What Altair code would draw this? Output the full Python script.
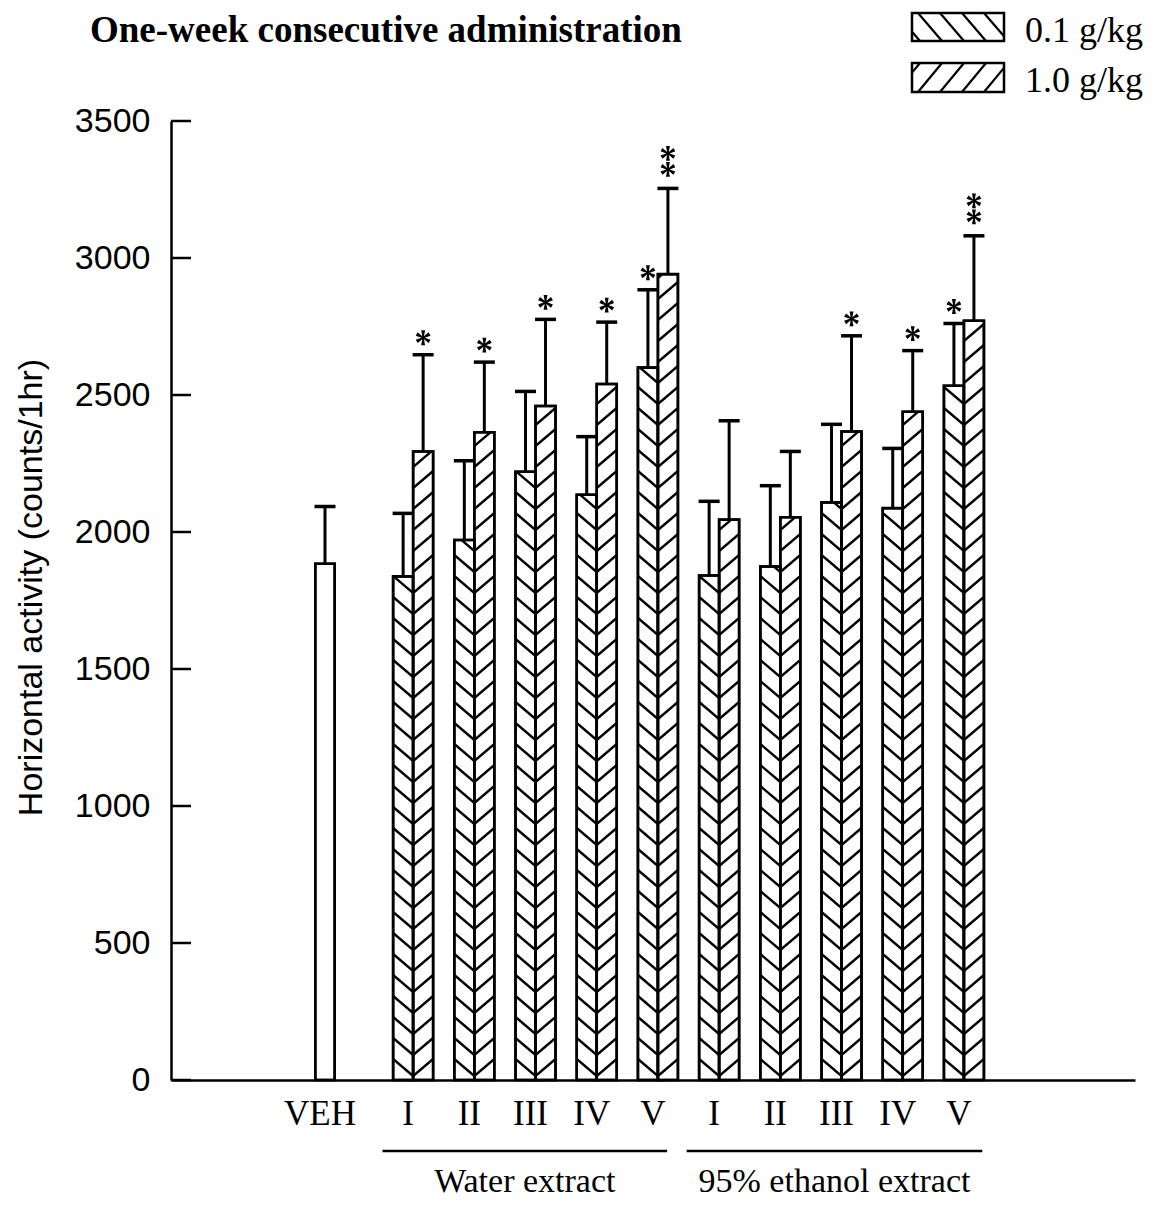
import altair as alt
import math
import pandas as pd

# ---------------- data ----------------
categories = ["VEH", "I", "II", "III", "IV", "V", "I", "II", "III", "IV", "V"]
group_labels = ["Water extract", "95% ethanol extract"]
dose_labels = ["0.1 g/kg", "1.0 g/kg"]
y_ticks = [0, 500, 1000, 1500, 2000, 2500, 3000, 3500]

veh_mean = 1884
veh_sem = 209

water_01_mean = [1838, 1971, 2220, 2136, 2600]
water_01_sem = [230, 289, 293, 212, 284]
water_10_mean = [2294, 2364, 2460, 2540, 2941]
water_10_sem = [353, 256, 316, 226, 313]

eth_01_mean = [1841, 1874, 2108, 2087, 2534]
eth_01_sem = [271, 295, 285, 218, 227]
eth_10_mean = [2045, 2054, 2367, 2439, 2771]
eth_10_sem = [361, 240, 349, 223, 310]

water_01_sig = ["", "", "", "", "*"]
water_10_sig = ["*", "*", "*", "*", "**"]
eth_01_sig = ["", "", "", "", "*"]
eth_10_sig = ["", "", "*", "*", "**"]

# ---------------- layout ----------------
W, H = 964, 959
PAD_L, PAD_T, PAD_R, PAD_B = 163, 113, 13, 120
Y_MAX = 3500
SLOT = 61.2                      # px per category slot
X_DOM = [-154 / SLOT, 810 / SLOT]
FIRST_GAP = 1.44                 # VEH -> first group
BW = 20 / SLOT                   # dose bar width (units)
VEH_HALF = 9.7 / SLOT
CAP_HALF = 10.5 / SLOT
PPY = H / Y_MAX                  # px per y unit
S = 21 / PPY                     # hatch spacing (y units)
D = 17 / PPY                     # hatch drop across bar width (y units)
STAR_GAP0 = 17                   # px above cap for first star
STAR_STEP = 16                   # px between stacked stars

SERIF = "Liberation Serif"
SANS = "Liberation Sans"


def clip(x0, y0, x1, y1, xmin, xmax, ymin, ymax):
    dx, dy = x1 - x0, y1 - y0
    t0, t1 = 0.0, 1.0
    for p, q in ((-dx, x0 - xmin), (dx, xmax - x0), (-dy, y0 - ymin), (dy, ymax - y0)):
        if p == 0:
            if q < 0:
                return None
        else:
            r = q / p
            if p < 0:
                t0 = max(t0, r)
            else:
                t1 = min(t1, r)
    if t1 - t0 < 1e-6:
        return None
    return (x0 + t0 * dx, y0 + t0 * dy, x0 + t1 * dx, y0 + t1 * dy)


# asterisk symbol: three crossing tapered lobes (vertical + two diagonals)
def asterisk_path(tip_w=0.26, mid_w=0.08):
    parts = []
    for ang in (90, 30, -30):
        a = math.radians(ang)
        ux, uy = math.cos(a), -math.sin(a)
        px, py = -uy, ux
        pts = [(ux + px * tip_w, uy + py * tip_w), (px * mid_w, py * mid_w),
               (-ux + px * tip_w, -uy + py * tip_w), (-ux - px * tip_w, -uy - py * tip_w),
               (-px * mid_w, -py * mid_w), (ux - px * tip_w, uy - py * tip_w)]
        parts.append("M" + " L".join(f"{x:.3f},{y:.3f}" for x, y in pts) + " Z")
    return " ".join(parts)


STAR_SHAPE = asterisk_path()

bars, hatch, stars, xlabels = [], [], [], []
bars.append(dict(x0=-VEH_HALF, x1=VEH_HALF, c=0.0, mean=veh_mean, up=veh_mean + veh_sem))
xlabels.append(dict(c=0.0, lab=categories[0]))

series = [
    (water_01_mean, water_01_sem, water_01_sig, water_10_mean, water_10_sem, water_10_sig),
    (eth_01_mean, eth_01_sem, eth_01_sig, eth_10_mean, eth_10_sem, eth_10_sig),
]
underlines = []
for g, (m1, s1, g1, m2, s2, g2) in enumerate(series):
    poss = []
    for i in range(5):
        pos = FIRST_GAP + g * 5 + i
        poss.append(pos)
        xlabels.append(dict(c=pos, lab=categories[1 + g * 5 + i]))
        for (x0, x1, m, s, sig, kind) in ((pos - BW, pos, m1[i], s1[i], g1[i], "back"),
                                           (pos, pos + BW, m2[i], s2[i], g2[i], "fwd")):
            c = (x0 + x1) / 2
            bars.append(dict(x0=x0, x1=x1, c=c, mean=m, up=m + s))
            b = -D
            while b < m + D:
                if kind == "back":
                    seg = clip(x0, b + D, x1, b, x0, x1, 0, m)
                else:
                    seg = clip(x0, b, x1, b + D, x0, x1, 0, m)
                if seg:
                    hatch.append(dict(hx=seg[0], hy=seg[1], hx2=seg[2], hy2=seg[3]))
                b += S
            n = len(sig)
            for k in range(n):
                gap = (STAR_GAP0 if n == 1 else STAR_GAP0 + 2) + k * STAR_STEP
                stars.append(dict(c=c, up=m + s, sy=m + s + gap / PPY))
    if g == 0:
        underlines.append(dict(u0=poss[0] - 0.5, u1=poss[-1] + 0.15, lab=group_labels[g]))
    else:
        underlines.append(dict(u0=poss[0] - 0.53, u1=poss[-1] + 0.3, lab=group_labels[g]))

bars_df = pd.DataFrame(bars)
hatch_df = pd.DataFrame(hatch)
stars_df = pd.DataFrame(stars)
xl_df = pd.DataFrame(xlabels)
ul_df = pd.DataFrame(underlines)
ul_df["mid"] = (ul_df["u0"] + ul_df["u1"]) / 2
ticks_df = pd.DataFrame({"t": y_ticks})

xs = alt.Scale(domain=X_DOM, nice=False, zero=False)
ys = alt.Scale(domain=[0, Y_MAX], nice=False)

base_bars = alt.Chart(bars_df)

fill_rect = base_bars.mark_rect(fill="white", stroke="black", strokeWidth=2.5).encode(
    x=alt.X("x0:Q", scale=xs, axis=alt.Axis(labels=False, ticks=False, grid=False, title=None,
                                           domainColor="black", domainWidth=2.5)),
    x2="x1:Q",
    y=alt.Y("mean:Q", scale=ys, axis=alt.Axis(
        values=y_ticks, format="d", grid=False, ticks=False, tickSize=0, labelPadding=21,
        labelFont=SANS, labelFontSize=34, labelColor="black",
        domainColor="black", domainWidth=2.5,
        title="Horizontal activity (counts/1hr)", titleFont=SANS, titleFontSize=34,
        titleFontWeight="normal", titleColor="black", titleX=-140, titleY=466,
        titleAngle=-90, titleAlign="center", titleBaseline="middle")),
    y2=alt.datum(0),
)

hatch_layer = alt.Chart(hatch_df).mark_rule(color="black", strokeWidth=2.3).encode(
    x=alt.X("hx:Q", scale=xs), x2="hx2:Q",
    y=alt.Y("hy:Q", scale=ys), y2="hy2:Q",
)

outline = base_bars.mark_rect(fillOpacity=0, stroke="black", strokeWidth=2.6).encode(
    x=alt.X("x0:Q", scale=xs), x2="x1:Q",
    y=alt.Y("mean:Q", scale=ys), y2=alt.datum(0),
)

err = base_bars.mark_rule(color="black", strokeWidth=3).encode(
    x=alt.X("c:Q", scale=xs),
    y=alt.Y("mean:Q", scale=ys), y2="up:Q",
)

caps = base_bars.transform_calculate(
    cl=f"datum.c - {CAP_HALF}", cr=f"datum.c + {CAP_HALF}"
).mark_rule(color="black", strokeWidth=3.5).encode(
    x=alt.X("cl:Q", scale=xs), x2="cr:Q",
    y=alt.Y("up:Q", scale=ys),
)

star_marks = alt.Chart(stars_df).mark_point(
    shape=STAR_SHAPE, filled=True, fill="black", strokeWidth=0,
    size=220, opacity=1,
).encode(x=alt.X("c:Q", scale=xs), y=alt.Y("sy:Q", scale=ys))

inner_ticks = alt.Chart(ticks_df).mark_rule(color="black", strokeWidth=2.5).encode(
    y=alt.Y("t:Q", scale=ys), x=alt.value(0), x2=alt.value(20),
)

xlab = alt.Chart(xl_df).mark_text(
    font=SERIF, fontSize=35, baseline="alphabetic", color="black", dx=-5
).encode(x=alt.X("c:Q", scale=xs), y=alt.value(1004), text="lab:N")

ulines = alt.Chart(ul_df).mark_rule(color="black", strokeWidth=2.5).encode(
    x=alt.X("u0:Q", scale=xs), x2="u1:Q", y=alt.value(1030),
)

glab = alt.Chart(ul_df).mark_text(
    font=SERIF, fontSize=34, baseline="alphabetic", color="black"
).encode(x=alt.X("mid:Q", scale=xs), y=alt.value(1071), text="lab:N")

title = alt.Chart(pd.DataFrame({"t": ["One-week consecutive administration"]})).mark_text(
    font=SERIF, fontSize=37, fontWeight="bold", align="left", baseline="alphabetic", color="black"
).encode(x=alt.value(-81), y=alt.value(-79), text="t:N")

# ---------------- legend (pixel space) ----------------
LX0, LX1 = 741, 833
boxes = [(-108, -80), (-58, -29)]
leg_boxes = pd.DataFrame({"bx0": [LX0, LX0], "bx1": [LX1, LX1],
                          "by0": [boxes[0][0], boxes[1][0]], "by1": [boxes[0][1], boxes[1][1]],
                          "lab": dose_labels, "ty": [-79, -29]})
leg_h = []
for j, (by0, by1) in enumerate(boxes):
    off = -60
    while off < (LX1 - LX0) + 40:
        if j == 0:   # "\" lines
            seg = clip(LX0 + off, by0, LX0 + off + 24, by1, LX0, LX1, by0, by1)
        else:        # "/" lines
            seg = clip(LX0 + off, by1, LX0 + off + 24, by0, LX0, LX1, by0, by1)
        if seg:
            leg_h.append(dict(lx=seg[0], ly=seg[1], lx2=seg[2], ly2=seg[3]))
        off += 22
leg_h_df = pd.DataFrame(leg_h)

leg_hatch = alt.Chart(leg_h_df).mark_rule(color="black", strokeWidth=2.2).encode(
    x=alt.X("lx:Q", scale=None), x2="lx2:Q",
    y=alt.Y("ly:Q", scale=None), y2="ly2:Q",
)
leg_rect = alt.Chart(leg_boxes).mark_rect(fillOpacity=0, stroke="black", strokeWidth=2.5).encode(
    x=alt.X("bx0:Q", scale=None), x2="bx1:Q",
    y=alt.Y("by0:Q", scale=None), y2="by1:Q",
)
leg_text = alt.Chart(leg_boxes).mark_text(
    font=SERIF, fontSize=36, align="left", baseline="alphabetic", color="black"
).encode(x=alt.value(854), y=alt.Y("ty:Q", scale=None), text="lab:N")

chart = alt.layer(
    fill_rect, hatch_layer, outline, err, caps, star_marks, inner_ticks,
    xlab, ulines, glab, title, leg_hatch, leg_rect, leg_text,
).properties(
    width=W, height=H,
    autosize=alt.AutoSizeParams(type="none"),
    padding={"left": PAD_L, "top": PAD_T, "right": PAD_R, "bottom": PAD_B},
    background="white",
).configure_view(stroke=None)

chart.save("out.html", embed_options={"renderer": "svg", "actions": False})
